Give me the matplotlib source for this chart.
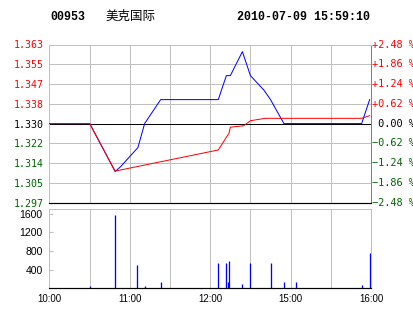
import matplotlib
matplotlib.use('Agg')
import matplotlib.pyplot as plt
import numpy as np

# stock header
code = '00953'
name = '美克国际'
stamp = '2010-07-09 15:59:10'
prev_close = 1.330

# trading minutes from 10:00 (lunch break squeezed out, 12:30 == 14:30)
price_t = [0, 30, 49, 53, 66, 71, 83, 126, 132, 135, 144, 150, 160, 165, 175, 233, 239]
price = [1.330, 1.330, 1.310, 1.312, 1.320, 1.330, 1.340, 1.340, 1.350, 1.350,
         1.360, 1.350, 1.344, 1.340, 1.330, 1.330, 1.340]

avg_t = [0, 30, 49, 126, 134, 135, 145, 150, 161, 233, 239]
avg = [1.330, 1.330, 1.3102, 1.319, 1.326, 1.3285, 1.3291, 1.3312, 1.3322, 1.3322, 1.3333]

vol_t = [30, 49, 65.5, 71, 83.5, 126, 132, 133.5, 134.3, 144, 150, 165, 175.3, 184.2, 233, 239]
vol = [50, 1570, 500, 50, 135, 540, 540, 135, 585, 92, 540, 540, 135, 135, 70, 755]

pct_levels = [2.48, 1.86, 1.24, 0.62, 0.00, -0.62, -1.24, -1.86, -2.48]
price_labels = ['1.363', '1.355', '1.347', '1.338', '1.330', '1.322', '1.314', '1.305', '1.297']
time_labels = ['10:00', '', '11:00', '', '12:00', '', '15:00', '', '16:00']
vol_ticks = [400, 800, 1200, 1600]

RED = '#ff0000'
GREEN = '#006400'
GRID = '#c0c0c0'
PX = 0.72  # one pixel in points at dpi 100

W, H = 414, 314
fig = plt.figure(figsize=(W / 100, H / 100), dpi=100)
fig.patch.set_facecolor('white')

# ---- header ----
ty = 1 - 16.5 / H
fig.text(50 / W, ty, code, family='Liberation Mono', weight='bold', size=8.4, va='center')
fig.text(105 / W, ty, name, family=['Noto Sans CJK SC', 'DejaVu Sans'], size=9, va='center')
fig.text(370 / W, ty, stamp, family='Liberation Mono', weight='bold', size=8.4,
         va='center', ha='right')

# ---- price panel ----
ax = fig.add_axes([49.5 / W, 1 - 202.7 / H, (371 - 49.5) / W, (202.7 - 44.5) / H])
levels = [prev_close * (1 + p / 100) for p in pct_levels]
ax.set_ylim(levels[-1], levels[0])
ax.set_xlim(0, 240)
ax.set_yticks(levels)
ax.set_xticks(np.arange(0, 241, 30))
ax.set_xticklabels([])
ax.grid(True, color=GRID, lw=PX)
ax.set_axisbelow(True)
ax.tick_params(length=0, pad=4)
ax.set_yticklabels(price_labels, family='DejaVu Sans Mono', size=7.2)
for lab, p in zip(ax.get_yticklabels(), pct_levels):
    lab.set_color(RED if p > 0 else (GREEN if p < 0 else 'black'))

for s in ['top', 'left']:
    ax.spines[s].set_color(GRID)
    ax.spines[s].set_linewidth(PX)
ax.spines['right'].set_color('#808080')
ax.spines['right'].set_linewidth(PX)
ax.spines['bottom'].set_color('black')
ax.spines['bottom'].set_linewidth(PX * 1.2)

ax.axhline(prev_close, color='black', lw=PX, zorder=2)
ax.plot(price_t, price, color='#0000ff', lw=PX, zorder=3)
ax.plot(avg_t, avg, color=RED, lw=PX, zorder=4)

trans = ax.get_yaxis_transform()
for v, p in zip(levels, pct_levels):
    if p > 0:
        s, c = '+%.2f %%' % p, RED
    elif p < 0:
        s, c = '\u2212%.2f %%' % abs(p), GREEN
    else:
        s, c = ' 0.00 %', 'black'
    ax.text(1.002, v, s, transform=trans, family='DejaVu Sans Mono', size=7.4,
            color=c, va='center', ha='left', clip_on=False)

# ---- volume panel ----
axv = fig.add_axes([49.5 / W, 1 - 288.3 / H, (371 - 49.5) / W, (288.3 - 209.3) / H])
axv.set_xlim(0, 240)
axv.set_ylim(0, 1690)
axv.set_xticks(np.arange(0, 241, 30))
axv.set_xticklabels(time_labels, family='Liberation Sans', size=7)
axv.set_yticks(vol_ticks)
axv.set_yticklabels([str(v) for v in vol_ticks], family='Liberation Sans', size=7.5)
axv.grid(True, axis='x', color=GRID, lw=PX)
axv.set_axisbelow(True)
axv.tick_params(axis='x', length=0, pad=4)
axv.tick_params(axis='y', length=3, direction='in', color=GRID, pad=5)
for s in ['top', 'left', 'right']:
    axv.spines[s].set_color(GRID)
    axv.spines[s].set_linewidth(PX)
axv.spines['bottom'].set_color('black')
axv.spines['bottom'].set_linewidth(PX * 1.2)
axv.vlines(vol_t, 0, vol, color='#0000ff', lw=PX * 1.3)

fig.savefig('out.png', dpi=100)
